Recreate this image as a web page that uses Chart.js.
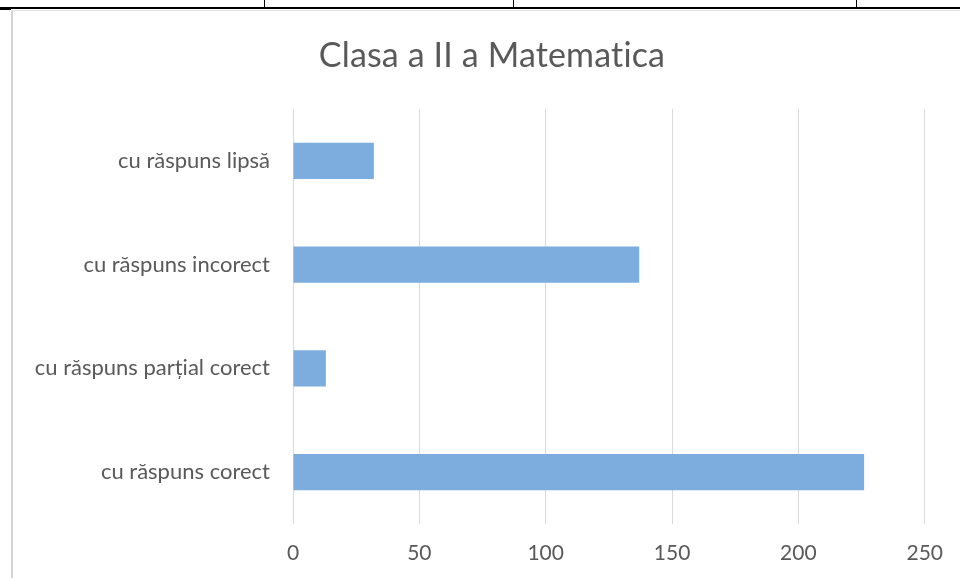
<!DOCTYPE html>
<html>
<head>
<meta charset="utf-8">
<script src="https://cdn.jsdelivr.net/npm/chart.js@4/dist/chart.umd.min.js"></script>
<style>
	html, body { margin: 0; padding: 0; background: #fff; overflow: hidden; }
	#wrap { position: relative; width: 960px; height: 578px; }
	.ln { position: absolute; background: #000; }
	.frame { position: absolute; background: #d4d4d4; }
	#c { position: absolute; left: 0; top: 0; }
	#title {
		position: absolute; left: 292px; width: 400px; top: 34px;
		text-align: center; font: 34px Lato, 'Open Sans', sans-serif; color: #595959;
		line-height: 40px; white-space: nowrap; letter-spacing: 0.15px;
	}
</style>
</head>
<body>
<div id="wrap">
	<div class="ln" style="left:0;top:7px;width:960px;height:2px"></div>
	<div class="ln" style="left:264px;top:0;width:1px;height:8px"></div>
	<div class="ln" style="left:513px;top:0;width:1px;height:8px"></div>
	<div class="ln" style="left:856px;top:0;width:1px;height:8px"></div>
	<div class="ln" style="left:0;top:9px;width:11px;height:1px"></div>
	<div class="frame" style="left:11px;top:10px;width:2px;height:568px"></div>
	<div class="frame" style="left:11px;top:10px;width:949px;height:1px;background:#e2e2e2"></div>
	<canvas id="c" width="960" height="578"></canvas>
	<div id="title">Clasa a II a Matematica</div>
</div>
<script>
var categories = ["cu răspuns lipsă", "cu răspuns incorect", "cu răspuns parțial corect", "cu răspuns corect"];
var values = [32, 137, 13, 226];
var xTicks = [0, 50, 100, 150, 200, 250];

Chart.defaults.font.family = "Lato, 'Open Sans', sans-serif";
Chart.defaults.color = "#595959";

window.myChart = new Chart(document.getElementById("c"), {
	type: 'bar',
	data: {
		labels: categories,
		datasets: [
			{
				data: values,
				backgroundColor: "#7cadde",
				borderWidth: 0,
				categoryPercentage: 1,
				barPercentage: 0.35
			}
		]
	},
	options: {
		indexAxis: 'y',
		responsive: false,
		animation: false,
		layout: {
			padding: { left: 13, right: 34, top: 109, bottom: 14 }
		},
		plugins: {
			legend: { display: false },
			tooltip: { enabled: false },
			title: { display: false }
		},
		scales: {
			x: {
				min: 0,
				max: 250,
				afterBuildTicks: function(scale) {
					scale.ticks = xTicks.map(function(v) { return { value: v }; });
				},
				afterFit: function(scale) { scale.height = 40; },
				grid: { color: '#d9d9d9', drawTicks: false },
				border: { display: false },
				ticks: { padding: 17, font: { size: 21 }, color: '#595959' }
			},
			y: {
				grid: { display: false },
				border: { display: false },
				afterFit: function(scale) { scale.width = 280; },
				ticks: { padding: 15, font: { size: 22 }, color: '#595959' }
			}
		}
	}
});
</script>
</body>
</html>
